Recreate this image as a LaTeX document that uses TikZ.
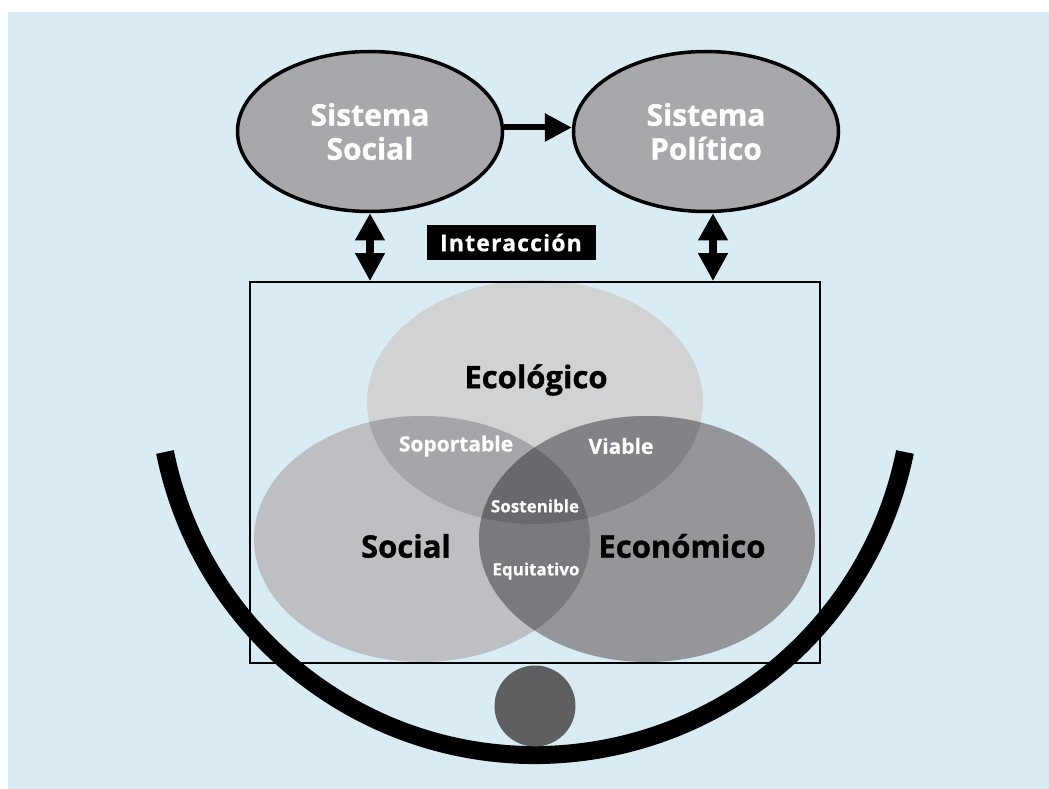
\documentclass[tikz,border=0pt]{standalone}
\usepackage{fontspec}
\setmainfont{Open Sans}
\usetikzlibrary{arrows.meta,shapes.geometric}
\definecolor{bgblue}{HTML}{DAECF3}
\definecolor{topgray}{HTML}{A7A8AB}
\definecolor{ecoC}{HTML}{D1D2D4}
\definecolor{socC}{HTML}{BEBFC2}
\definecolor{ecnC}{HTML}{959699}
\definecolor{soporC}{HTML}{A5A6A9}
\definecolor{viabC}{HTML}{828387}
\definecolor{equiC}{HTML}{797A7D}
\definecolor{sostC}{HTML}{68696C}
\definecolor{headC}{HTML}{5E5F61}
\tikzset{
  topell/.style={ellipse, draw=black, line width=3.5pt, fill=topgray,
    minimum width=265pt, minimum height=160pt, inner sep=0pt, align=center,
    text=white, font=\bfseries\fontsize{30}{34}\selectfont\addfontfeature{FakeBold=1}},
  harrow/.style={line width=6pt, -{Triangle[width=27pt,length=27pt]}},
  varrow/.style={line width=8pt, {Triangle[width=28pt,length=27pt]}-{Triangle[width=28pt,length=28pt]}},
  biglab/.style={text=black, font=\bfseries\fontsize{31}{36}\selectfont\addfontfeature{FakeBold=1}, inner sep=0pt},
  midlab/.style={text=white, font=\bfseries\fontsize{21}{25}\selectfont\addfontfeature{FakeBold=0.6}, inner sep=0pt},
  smalllab/.style={text=white, font=\bfseries\fontsize{17}{20}\selectfont\addfontfeature{FakeBold=0.5}, inner sep=0pt},
}
\begin{document}
\begin{tikzpicture}[x=1pt,y=-1pt]
\useasboundingbox (0,0) rectangle (1049,789);
\fill[bgblue] (8,12) rectangle (1049,789);

% Venn diagram
\coordinate (ceco) at (535,402);
\coordinate (csoc) at (422,539);
\coordinate (cecn) at (647,539);
\fill[ecoC] (ceco) ellipse [x radius=168pt, y radius=122pt];
\fill[socC] (csoc) ellipse [x radius=168pt, y radius=123pt];
\fill[ecnC] (cecn) ellipse [x radius=168pt, y radius=123pt];
\begin{scope}
  \clip (ceco) ellipse [x radius=168pt, y radius=122pt];
  \fill[soporC] (csoc) ellipse [x radius=168pt, y radius=123pt];
  \fill[viabC] (cecn) ellipse [x radius=168pt, y radius=123pt];
\end{scope}
\begin{scope}
  \clip (csoc) ellipse [x radius=168pt, y radius=123pt];
  \fill[equiC] (cecn) ellipse [x radius=168pt, y radius=123pt];
\end{scope}
\begin{scope}
  \clip (ceco) ellipse [x radius=168pt, y radius=122pt];
  \clip (csoc) ellipse [x radius=168pt, y radius=123pt];
  \fill[sostC] (cecn) ellipse [x radius=168pt, y radius=123pt];
\end{scope}

\node[biglab] (leco) at (536,380) {Ecológico};
\node[biglab] (lsoc) at (406,546) {Social};
\node[biglab] (lecn) at (682,546) {Económico};
\node[midlab] (lsop) at (456,446) {Soportable};
\node[midlab] (lvia) at (621,446) {Viable};
\node[smalllab] (lsos) at (535,506) {Sostenible};
\node[smalllab] (lequ) at (536,571) {Equitativo};

% frame
\node[draw=black, line width=1.6pt, minimum width=570pt, minimum height=381pt, inner sep=0pt] (frame) at (535,472.5) {};

% arc and head
\draw[line width=18pt] (165,452) arc[start angle=191.37, end angle=348.63, radius=377.4pt];
\node[circle, fill=headC, minimum size=81pt, inner sep=0pt] (head) at (535,706) {};

% top systems
\node[topell] (soc) at (370,131.5) {Sistema\\Social};
\node[topell] (pol) at (706,131.5) {Sistema\\Político};
\draw[harrow] ([yshift=4pt]soc.east) -- ([yshift=4pt]pol.west);

\node[fill=black, text=white, minimum width=169pt, minimum height=35pt, inner sep=0pt,
  font=\bfseries\fontsize{23}{27}\selectfont\addfontfeature{LetterSpace=5,FakeBold=0.6}] (inter) at (511,242.5) {Interacción};

\draw[varrow] (soc.south) -- (soc.south |- frame.north);
\draw[varrow] ([xshift=7pt]pol.south) -- ([xshift=7pt]pol.south |- frame.north);
\end{tikzpicture}
\end{document}
